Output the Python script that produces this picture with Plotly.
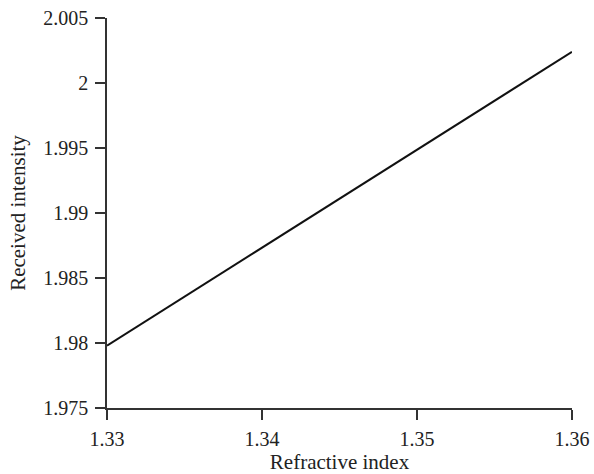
import plotly.graph_objects as go

refractive_index = [1.33, 1.36]
received_intensity = [1.9798, 2.0024]

x_ticks = [1.33, 1.34, 1.35, 1.36]
x_tick_labels = ["1.33", "1.34", "1.35", "1.36"]
y_ticks = [1.975, 1.98, 1.985, 1.99, 1.995, 2.0, 2.005]
y_tick_labels = ["1.975", "1.98", "1.985", "1.99", "1.995", "2", "2.005"]

family = "'Liberation Serif', 'Times New Roman', serif"
tick_font = dict(family=family, size=20, color="#222")
title_font = dict(family=family, size=21, color="#222")

fig = go.Figure()
fig.add_trace(go.Scatter(x=refractive_index, y=received_intensity, mode="lines",
                         line=dict(color="#111", width=2), showlegend=False))

fig.update_layout(
    width=594, height=474,
    margin=dict(l=107, r=22, t=18, b=66),
    paper_bgcolor="white", plot_bgcolor="white",
    font=tick_font,
)
fig.update_xaxes(range=[1.33, 1.36], tickvals=x_ticks, ticktext=x_tick_labels,
                 showgrid=False, zeroline=False, showline=True, linecolor="#333", linewidth=1.5,
                 ticks="outside", ticklen=10, tickcolor="#333", tickwidth=1.5,
                 tickfont=tick_font, ticklabelstandoff=2, automargin=False,
                 title=dict(text="Refractive index", standoff=2, font=title_font))
fig.update_yaxes(range=[1.975, 2.005], tickvals=y_ticks, ticktext=y_tick_labels,
                 showgrid=False, zeroline=False, showline=True, linecolor="#333", linewidth=1.5,
                 ticks="outside", ticklen=10, tickcolor="#333", tickwidth=1.5,
                 tickfont=tick_font, ticklabelstandoff=3, automargin=False,
                 title=dict(text="Received intensity", standoff=12, font=title_font))

fig.write_html("out.html")
